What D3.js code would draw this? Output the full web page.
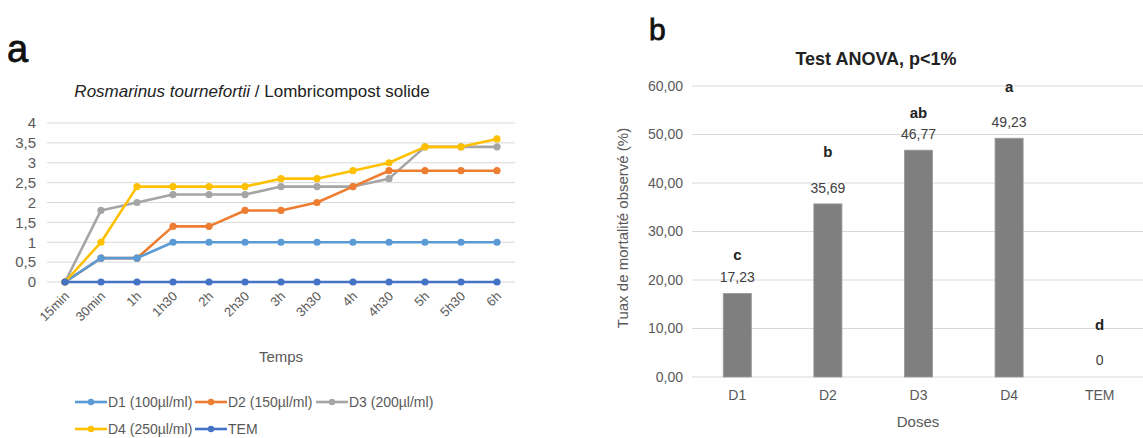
<!DOCTYPE html>
<html>
<head>
<meta charset="utf-8">
<script src="https://cdn.jsdelivr.net/npm/d3@7/dist/d3.min.js"></script>
<style>
  body { margin: 0; background: #fff; }
  svg { display: block; font-family: "Liberation Sans", Arial, sans-serif; }
</style>
</head>
<body>
<div id="chart"></div>
<script>
// Panel a data: mortality over time
var times = ["15min", "30min", "1h", "1h30", "2h", "2h30", "3h", "3h30", "4h", "4h30", "5h", "5h30", "6h"];
var d1 = [0, 0.6, 0.6, 1, 1, 1, 1, 1, 1, 1, 1, 1, 1];
var d2 = [0, 0.6, 0.6, 1.4, 1.4, 1.8, 1.8, 2.0, 2.4, 2.8, 2.8, 2.8, 2.8];
var d3s = [0, 1.8, 2.0, 2.2, 2.2, 2.2, 2.4, 2.4, 2.4, 2.6, 3.4, 3.4, 3.4];
var d4 = [0, 1.0, 2.4, 2.4, 2.4, 2.4, 2.6, 2.6, 2.8, 3.0, 3.4, 3.4, 3.6];
var tem = [0, 0, 0, 0, 0, 0, 0, 0, 0, 0, 0, 0, 0];
var seriesNames = ["D1 (100µl/ml)", "D2 (150µl/ml)", "D3 (200µl/ml)", "D4 (250µl/ml)", "TEM"];
var seriesColors = ["#5b9bd5", "#ed7d31", "#a5a5a5", "#ffc000", "#4472c4"];
var yTicksA = [0, 0.5, 1, 1.5, 2, 2.5, 3, 3.5, 4];

// Panel b data: ANOVA
var doses = ["D1", "D2", "D3", "D4", "TEM"];
var mortality = [17.23, 35.69, 46.77, 49.23, 0];
var groups = ["c", "b", "ab", "a", "d"];
var groupAt = [25.2, 46.4, 54.4, 59.8, 10.7];  // where the letters sit, in % units
var yTicksB = [0, 10, 20, 30, 40, 50, 60];

var W = 1143, H = 438;
var svg = d3.select("#chart").append("svg").attr("width", W).attr("height", H);

// ---------- panel a ----------
var xA = d3.scalePoint().domain(times).range([65, 497]);
var yA = d3.scaleLinear().domain([0, 4]).range([282, 123]);

svg.append("text").attr("x", 7).attr("y", 62)
   .attr("font-size", 38).attr("fill", "#111")
   .attr("stroke", "#111").attr("stroke-width", 0.8).text("a");

var tA = svg.append("text").attr("x", 252).attr("y", 97)
   .attr("text-anchor", "middle").attr("font-size", 17).attr("fill", "#222");
tA.append("tspan").attr("font-style", "italic").text("Rosmarinus tournefortii");
tA.append("tspan").text(" / Lombricompost solide");

svg.append("g").selectAll("line").data(yTicksA).enter().append("line")
   .attr("x1", 47).attr("x2", 515)
   .attr("y1", function(d) { return yA(d); }).attr("y2", function(d) { return yA(d); })
   .attr("stroke", "#d9d9d9").attr("stroke-width", 1);

svg.append("g").attr("transform", "translate(39,0)")
   .call(d3.axisLeft(yA).tickValues(yTicksA).tickSize(0)
        .tickFormat(function(d) { return String(d).replace(".", ","); }))
   .call(function(g) { g.select(".domain").remove(); })
   .selectAll("text").attr("font-size", 15).attr("fill", "#595959")
   .attr("font-family", "Liberation Sans, Arial, sans-serif");

svg.append("g").selectAll("text").data(times).enter().append("text")
   .attr("transform", function(d) { return "translate(" + (xA(d) + 5) + ",297) rotate(-45)"; })
   .attr("text-anchor", "end").attr("font-size", 13).attr("fill", "#595959")
   .text(function(d) { return d; });

svg.append("text").attr("x", 281).attr("y", 362).attr("text-anchor", "middle")
   .attr("font-size", 15).attr("fill", "#595959").text("Temps");

var allSeries = [d1, d2, d3s, d4, tem];
var lineA = d3.line()
   .x(function(d, i) { return xA(times[i]); })
   .y(function(d) { return yA(d); });

// draw in order so TEM sits on top, D4 above D3
var drawOrder = [2, 1, 0, 3, 4];
drawOrder.forEach(function(k) {
  var g = svg.append("g");
  g.append("path").datum(allSeries[k]).attr("d", lineA)
   .attr("fill", "none").attr("stroke", seriesColors[k]).attr("stroke-width", 2.6)
   .attr("stroke-linejoin", "round");
  g.selectAll("circle").data(allSeries[k]).enter().append("circle")
   .attr("cx", function(d, i) { return xA(times[i]); })
   .attr("cy", function(d) { return yA(d); })
   .attr("r", 3.6).attr("fill", seriesColors[k]);
});

// legend
var legendPos = [[75, 402], [195, 402], [316, 402], [75, 429], [195, 429]];
var lg = svg.append("g").selectAll("g").data(seriesNames).enter().append("g")
   .attr("transform", function(d, i) { return "translate(" + legendPos[i][0] + "," + legendPos[i][1] + ")"; });
lg.append("line").attr("x1", 0).attr("x2", 32).attr("y1", 0).attr("y2", 0)
   .attr("stroke", function(d, i) { return seriesColors[i]; }).attr("stroke-width", 2.6);
lg.append("circle").attr("cx", 16).attr("cy", 0).attr("r", 3.2)
   .attr("fill", function(d, i) { return seriesColors[i]; });
lg.append("text").attr("x", 33).attr("y", 5).attr("font-size", 14).attr("fill", "#595959")
   .text(function(d) { return d; });

// ---------- panel b ----------
var xB = d3.scaleBand().domain(doses).range([692, 1145]).paddingInner(0.69).paddingOuter(0.345);
var yB = d3.scaleLinear().domain([0, 60]).range([377, 86]);

svg.append("text").attr("x", 649).attr("y", 40)
   .attr("font-size", 30).attr("fill", "#111")
   .attr("stroke", "#111").attr("stroke-width", 0.8).text("b");

svg.append("text").attr("x", 876).attr("y", 65).attr("text-anchor", "middle")
   .attr("font-size", 18).attr("font-weight", "bold").attr("fill", "#222")
   .text("Test ANOVA, p<1%");

svg.append("g").selectAll("line").data(yTicksB).enter().append("line")
   .attr("x1", 692).attr("x2", 1143)
   .attr("y1", function(d) { return yB(d); }).attr("y2", function(d) { return yB(d); })
   .attr("stroke", "#d9d9d9").attr("stroke-width", 1);

svg.append("g").attr("transform", "translate(683,0)")
   .call(d3.axisLeft(yB).tickValues(yTicksB).tickSize(0).tickPadding(0)
        .tickFormat(function(d) { return d3.format(".2f")(d).replace(".", ","); }))
   .call(function(g) { g.select(".domain").remove(); })
   .selectAll("text").attr("font-size", 14).attr("fill", "#595959")
   .attr("font-family", "Liberation Sans, Arial, sans-serif");

svg.append("text").attr("transform", "translate(628,228) rotate(-90)")
   .attr("text-anchor", "middle").attr("font-size", 15).attr("fill", "#595959")
   .text("Tuax de mortalité observé (%)");

svg.append("g").selectAll("rect").data(mortality).enter().append("rect")
   .attr("x", function(d, i) { return xB(doses[i]); })
   .attr("y", function(d) { return yB(d); })
   .attr("width", xB.bandwidth())
   .attr("height", function(d) { return yB(0) - yB(d); })
   .attr("fill", "#7f7f7f").attr("stroke", "#9a9a9a").attr("stroke-width", 0.8);

svg.append("g").selectAll("text").data(mortality).enter().append("text")
   .attr("x", function(d, i) { return xB(doses[i]) + xB.bandwidth() / 2; })
   .attr("y", function(d) { return d > 0 ? yB(d) - 11 : yB(0) - 12; })
   .attr("text-anchor", "middle").attr("font-size", 14).attr("fill", "#404040")
   .text(function(d) { return d > 0 ? d3.format(".2f")(d).replace(".", ",") : "0"; });

svg.append("g").selectAll("text").data(groups).enter().append("text")
   .attr("x", function(d, i) { return xB(doses[i]) + xB.bandwidth() / 2; })
   .attr("y", function(d, i) { return yB(groupAt[i]) + 5; })
   .attr("text-anchor", "middle").attr("font-size", 15).attr("font-weight", "bold").attr("fill", "#222")
   .text(function(d) { return d; });

svg.append("g").attr("transform", "translate(0,387)")
   .call(d3.axisBottom(xB).tickSize(0))
   .call(function(g) { g.select(".domain").remove(); })
   .selectAll("text").attr("font-size", 14).attr("fill", "#595959")
   .attr("font-family", "Liberation Sans, Arial, sans-serif");

svg.append("text").attr("x", 918).attr("y", 427).attr("text-anchor", "middle")
   .attr("font-size", 15).attr("fill", "#595959").text("Doses");
</script>
</body>
</html>
